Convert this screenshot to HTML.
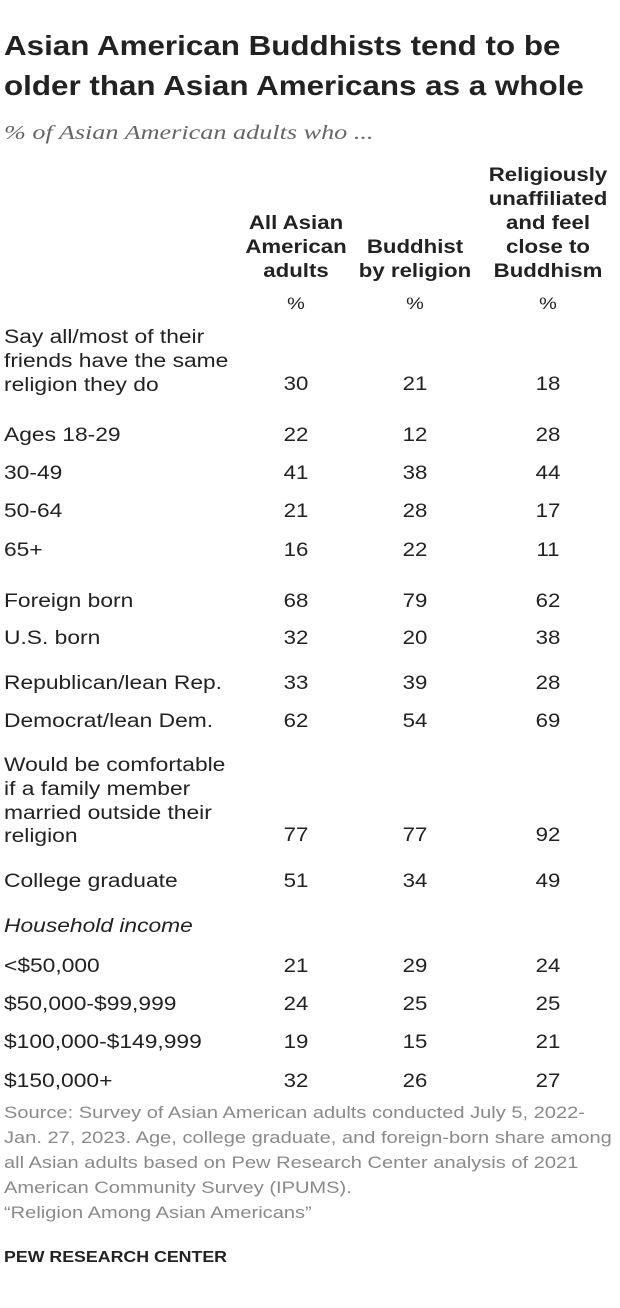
<!DOCTYPE html>
<html><head><meta charset="utf-8"><style>
body{margin:0;width:620px;height:1308px;background:#fff;position:relative;font-family:"Liberation Sans",Arial,sans-serif;color:#222;overflow:hidden}
.t{position:absolute;white-space:nowrap;line-height:24px;height:24px;transform-origin:0 50%;transform:scaleX(1.2)}
.b{font-weight:bold}
.c{text-align:center;transform-origin:50% 50%;transform:translateX(-50%) scaleX(1.17)}
.l{left:4px;font-size:19px}
.v{font-size:19px}
.s{left:4px;font-size:17px;color:#8a8a8a;transform:scaleX(1.18)}
</style></head><body>
<div class="t b" style="left:4px;top:29px;font-size:28px;line-height:34px;height:34px;transform:scaleX(1.12)">Asian American Buddhists tend to be</div>
<div class="t b" style="left:4px;top:69px;font-size:28px;line-height:34px;height:34px;transform:scaleX(1.12)">older than Asian Americans as a whole</div>
<div class="t" style="left:4px;top:121px;font-size:20px;font-style:italic;color:#666;font-family:'Liberation Serif',serif;transform:scaleX(1.31)">% of Asian American adults who ...</div>
<div id="h"></div>
<script>
var o='';
function T(x,y,txt,cls,st){o+='<div class="t '+cls+'" style="left:'+x+'px;top:'+(y-10)+'px;'+(st||'')+'">'+txt+'</div>';}
var C=[296,415,548];
[['Religiously',174],['unaffiliated',198],['and feel',222],['close to',246],['Buddhism',270]].forEach(function(a){T(C[2],a[1],a[0],'b c v');});
[['All Asian',222],['American',246],['adults',270]].forEach(function(a){T(C[0],a[1],a[0],'b c v');});
[['Buddhist',246],['by religion',270]].forEach(function(a){T(C[1],a[1],a[0],'b c v');});
C.forEach(function(x){T(x,302,'%','c v','font-size:17px');});
[['Say all/most of their',336],['friends have the same',360],['religion they do',384],['Would be comfortable',764],['if a family member',788],['married outside their',812],['religion',835]].forEach(function(a){T(4,a[1],a[0],'l');});
T(4,925,'Household income','l','font-style:italic');
var R=[[null,383,30,21,18],['Ages 18-29',434,22,12,28],['30-49',472,41,38,44],['50-64',510,21,28,17],['65+',549,16,22,11],['Foreign born',600,68,79,62],['U.S. born',637,32,20,38],['Republican/lean Rep.',682,33,39,28],['Democrat/lean Dem.',720,62,54,69],[null,834,77,77,92],['College graduate',880,51,34,49],['&lt;$50,000',965,21,29,24],['$50,000-$99,999',1003,24,25,25],['$100,000-$149,999',1041,19,15,21],['$150,000+',1080,32,26,27]];
R.forEach(function(r){if(r[0])T(4,r[1],r[0],'l');for(var i=0;i<3;i++)T(C[i],r[1],r[i+2],'c v');});
['Source: Survey of Asian American adults conducted July 5, 2022-','Jan. 27, 2023. Age, college graduate, and foreign-born share among','all Asian adults based on Pew Research Center analysis of 2021','American Community Survey (IPUMS).','“Religion Among Asian Americans”'].forEach(function(s,i){T(4,1111+i*25,s,'s');});
T(4,1256,'PEW RESEARCH CENTER','b','font-size:16px;transform:scaleX(1.11)');
document.getElementById('h').outerHTML=o;
</script>
</body></html>
